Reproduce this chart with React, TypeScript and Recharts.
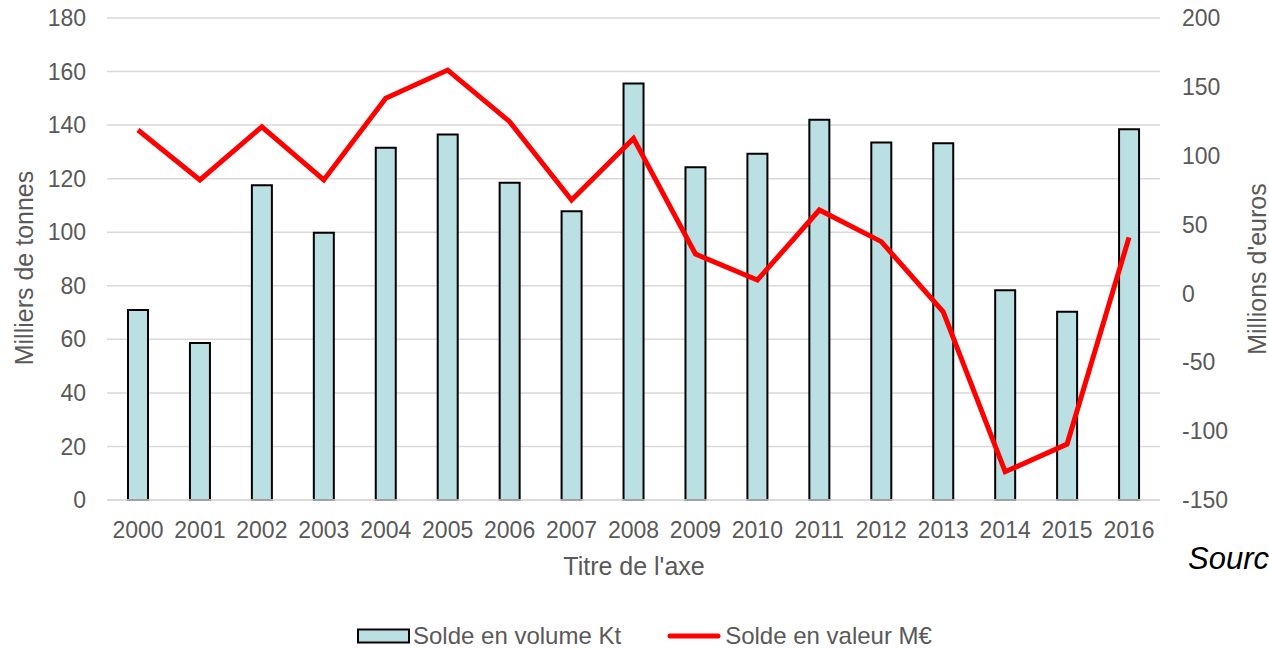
import { ComposedChart, Bar, Line, XAxis, YAxis, CartesianGrid, Legend } from "recharts";

const years = ["2000", "2001", "2002", "2003", "2004", "2005", "2006", "2007", "2008", "2009", "2010", "2011", "2012", "2013", "2014", "2015", "2016"];
const volumeKt = [71, 58.6, 117.5, 99.8, 131.5, 136.5, 118.5, 107.8, 155.5, 124.3, 129.3, 142, 133.5, 133.2, 78.3, 70.3, 138.5];
const valeurMEur = [118.7, 82.4, 121, 82.4, 141.7, 162.2, 124.7, 67.8, 112.6, 28.6, 9.7, 60.6, 37.6, -13.3, -129.5, -109.4, 40.7];
const leftTicks = [0, 20, 40, 60, 80, 100, 120, 140, 160, 180];
const rightTicks = [-150, -100, -50, 0, 50, 100, 150, 200];

const data = years.map((y, i) => ({ year: y, volume: volumeKt[i], valeur: valeurMEur[i] }));

const FONT = "'Liberation Sans', Arial, sans-serif";
const GREY = "#595959";
const BAR_FILL = "#BBE0E3";

const leftTitle = () => (
  <text x={24} y={268} transform="rotate(-90 24 268)" textAnchor="middle" dy="0.35em" fill={GREY} fontSize={25} fontFamily={FONT}>
    Milliers de tonnes
  </text>
);

const rightTitle = () => (
  <text x={1257} y={269} transform="rotate(-90 1257 269)" textAnchor="middle" dy="0.35em" fill={GREY} fontSize={25} fontFamily={FONT}>
    Millions d'euros
  </text>
);

const bottomTitle = () => (
  <text x={634} y={575} textAnchor="middle" fill={GREY} fontSize={25} fontFamily={FONT}>
    Titre de l'axe
  </text>
);

function LegendBox() {
  return (
    <div style={{ height: 40, display: "flex", alignItems: "center", paddingTop: 16, boxSizing: "border-box", paddingLeft: 357, fontFamily: FONT, fontSize: 24, color: GREY, lineHeight: "24px" }}>
      <svg width={53} height={16} style={{ marginRight: 3 }}>
        <rect x={1} y={1.5} width={51} height={13} fill={BAR_FILL} stroke="#000" strokeWidth={2} />
      </svg>
      <span style={{ marginRight: 46, whiteSpace: "nowrap" }}>Solde en volume Kt</span>
      <svg width={54} height={10} style={{ marginRight: 4 }}>
        <line x1={3} y1={5} x2={51} y2={5} stroke="#FF0000" strokeWidth={5} strokeLinecap="round" />
      </svg>
      <span style={{ whiteSpace: "nowrap" }}>Solde en valeur M€</span>
    </div>
  );
}

export default function App() {
  return (
    <div style={{ position: "absolute", left: 0, top: 0, width: 1269, height: 648, overflow: "hidden", background: "#fff", fontFamily: FONT }}>
      <ComposedChart width={1269} height={648} data={data} margin={{ top: 18, right: 0, left: 0, bottom: 0 }}>
        <CartesianGrid yAxisId="left" vertical={false} stroke="#D9D9D9" strokeWidth={1.5} />
        <XAxis
          dataKey="year"
          interval={0}
          height={108}
          tickLine={false}
          tickSize={0}
          tickMargin={22}
          axisLine={{ stroke: "#D9D9D9", strokeWidth: 1.5 }}
          tick={{ fill: GREY, fontSize: 23, fontFamily: FONT }}
          label={bottomTitle}
        />
        <YAxis
          yAxisId="left"
          width={107}
          domain={[0, 180]}
          ticks={leftTicks}
          axisLine={false}
          tickLine={false}
          tickSize={0}
          tickMargin={21}
          tick={{ fill: GREY, fontSize: 23, fontFamily: FONT }}
          label={leftTitle}
        />
        <YAxis
          yAxisId="right"
          orientation="right"
          width={109}
          domain={[-150, 200]}
          ticks={rightTicks}
          axisLine={false}
          tickLine={false}
          tickSize={0}
          tickMargin={22}
          tick={{ fill: GREY, fontSize: 23, fontFamily: FONT }}
          label={rightTitle}
        />
        <Legend verticalAlign="bottom" content={() => <LegendBox />} wrapperStyle={{ height: 40 }} />
        <Bar yAxisId="left" dataKey="volume" name="Solde en volume Kt" fill={BAR_FILL} stroke="#000" strokeWidth={2} barSize={20} isAnimationActive={false} />
        <Line yAxisId="right" dataKey="valeur" name="Solde en valeur M€" type="linear" stroke="#FF0000" strokeWidth={5} dot={false} activeDot={false} isAnimationActive={false} />
      </ComposedChart>
      <div style={{ position: "absolute", left: 1188, top: 543, fontSize: 31, lineHeight: "31px", fontStyle: "italic", color: "#000", whiteSpace: "nowrap", fontFamily: FONT }}>
        Source
      </div>
    </div>
  );
}
